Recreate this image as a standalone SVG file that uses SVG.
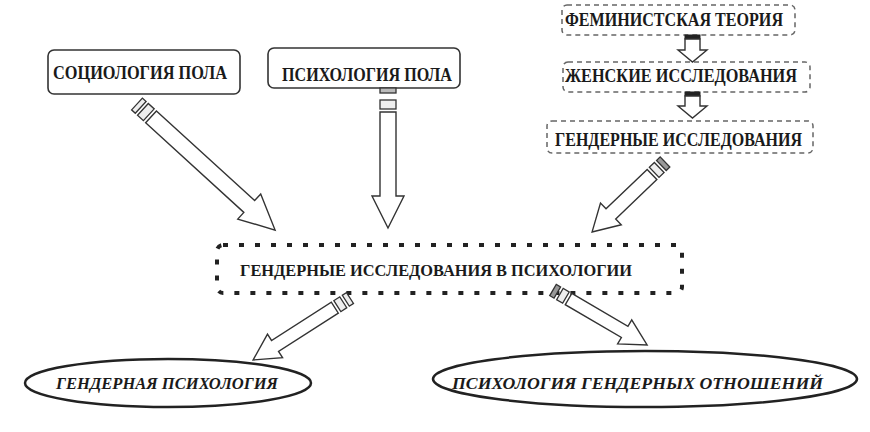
<svg xmlns="http://www.w3.org/2000/svg" width="870" height="432" viewBox="0 0 870 432">
<style>
.t{font-family:"Liberation Serif","DejaVu Serif",serif;font-weight:bold;fill:#1a1a1a;text-anchor:start;dominant-baseline:central}
.it{font-style:italic}
.box{fill:#fff;stroke:#333;stroke-width:1.6}
.dbox{fill:#fff;stroke:#666;stroke-width:1.5;stroke-dasharray:5 4}
.cbox{fill:#fff;stroke:#222;stroke-width:4;stroke-dasharray:5 11}
.ell{fill:#fff;stroke:#222;stroke-width:2.5}
.ar{fill:#fff;stroke:#333;stroke-width:1.4;stroke-linejoin:miter}
.tp{fill:#eee;stroke:#333;stroke-width:1.3}
.dk{fill:#222;stroke:#222}
</style>
<rect width="870" height="432" fill="#fff"/>
<g id="n-sociology">
<rect class="box" x="48" y="50" width="192" height="44" rx="6"/>
<text class="t" x="53" y="73" font-size="18" textLength="174" lengthAdjust="spacingAndGlyphs">СОЦИОЛОГИЯ ПОЛА</text>
</g>
<g id="n-psychology">
<rect class="box" x="268" y="48" width="192" height="40" rx="6"/>
<text class="t" x="282" y="75" font-size="18" textLength="170" lengthAdjust="spacingAndGlyphs">ПСИХОЛОГИЯ ПОЛА</text>
</g>
<g id="n-feminist">
<rect class="dbox" x="562" y="5" width="233" height="30" rx="5"/>
<text class="t" x="565" y="20" font-size="18" textLength="218" lengthAdjust="spacingAndGlyphs">ФЕМИНИСТСКАЯ ТЕОРИЯ</text>
</g>
<g id="n-women">
<rect class="dbox" x="563" y="62" width="247" height="30" rx="5"/>
<text class="t" x="565" y="76" font-size="18" textLength="232" lengthAdjust="spacingAndGlyphs">ЖЕНСКИЕ ИССЛЕДОВАНИЯ</text>
</g>
<g id="n-gender">
<rect class="dbox" x="547" y="121" width="266" height="32" rx="5"/>
<text class="t" x="555" y="140" font-size="18" textLength="247" lengthAdjust="spacingAndGlyphs">ГЕНДЕРНЫЕ ИССЛЕДОВАНИЯ</text>
</g>
<g id="n-center">
<rect class="cbox" x="217" y="245" width="465" height="48" rx="6"/>
<text class="t" x="240" y="270" font-size="16" textLength="392" lengthAdjust="spacingAndGlyphs">ГЕНДЕРНЫЕ ИССЛЕДОВАНИЯ В ПСИХОЛОГИИ</text>
</g>
<g id="n-genderpsy">
<ellipse class="ell" cx="168" cy="383" rx="143" ry="24"/>
<text class="t it" x="56" y="383" font-size="16" textLength="222" lengthAdjust="spacingAndGlyphs">ГЕНДЕРНАЯ ПСИХОЛОГИЯ</text>
</g>
<g id="n-relations">
<ellipse class="ell" cx="645" cy="379" rx="212" ry="28"/>
<text class="t it" x="452" y="383" font-size="16" textLength="371" lengthAdjust="spacingAndGlyphs">ПСИХОЛОГИЯ ГЕНДЕРНЫХ ОТНОШЕНИЙ</text>
</g>
<g id="connectors">
<g transform="translate(137,104) rotate(42.4)">
<rect class="tp" x="0" y="-8" width="5" height="16"/>
<rect class="tp" x="8" y="-8" width="8" height="16"/>
<polygon class="ar" points="19,-8 152,-8 152,-17 187,0 152,17 152,8 19,8"/>
</g>
<g transform="translate(388,88) rotate(90)">
<rect class="tp" x="0" y="-8" width="5" height="16" style="fill:#bbb"/>
<rect class="tp" x="12" y="-8" width="9" height="16"/>
<polygon class="ar" points="24,-8 108,-8 108,-16 140,0 108,16 108,8 24,8"/>
</g>
<g transform="translate(665,162) rotate(136.2)">
<rect class="tp" x="0" y="-7" width="5" height="14" style="fill:#999"/>
<rect class="tp" x="8" y="-7" width="7" height="14"/>
<polygon class="ar" points="18,-7 75,-7 75,-15 101,0 75,15 75,7 18,7"/>
</g>
<g transform="translate(350,298) rotate(147.4)">
<rect class="tp" x="0" y="-6.5" width="5" height="13"/>
<rect class="tp" x="8" y="-6.5" width="7" height="13"/>
<polygon class="ar" points="18,-6.5 89,-6.5 89,-14 115,0 89,14 89,6.5 18,6.5"/>
</g>
<g transform="translate(553,290) rotate(30.3)">
<rect class="tp" x="0" y="-6.5" width="5" height="13" style="fill:#999"/>
<rect class="tp" x="8" y="-6.5" width="7" height="13"/>
<polygon class="ar" points="18,-6.5 83,-6.5 83,-14 109,0 83,14 83,6.5 18,6.5"/>
</g>
<g>
<rect class="dk" x="685" y="35" width="15" height="4"/>
<polygon class="ar" points="685,39 700,39 700,50 707,50 692.5,62 678,50 685,50"/>
<rect class="dk" x="685" y="92" width="15" height="4"/>
<polygon class="ar" points="685,96 700,96 700,106 707,106 692.5,118 678,106 685,106"/>
</g>
</g>
</svg>
